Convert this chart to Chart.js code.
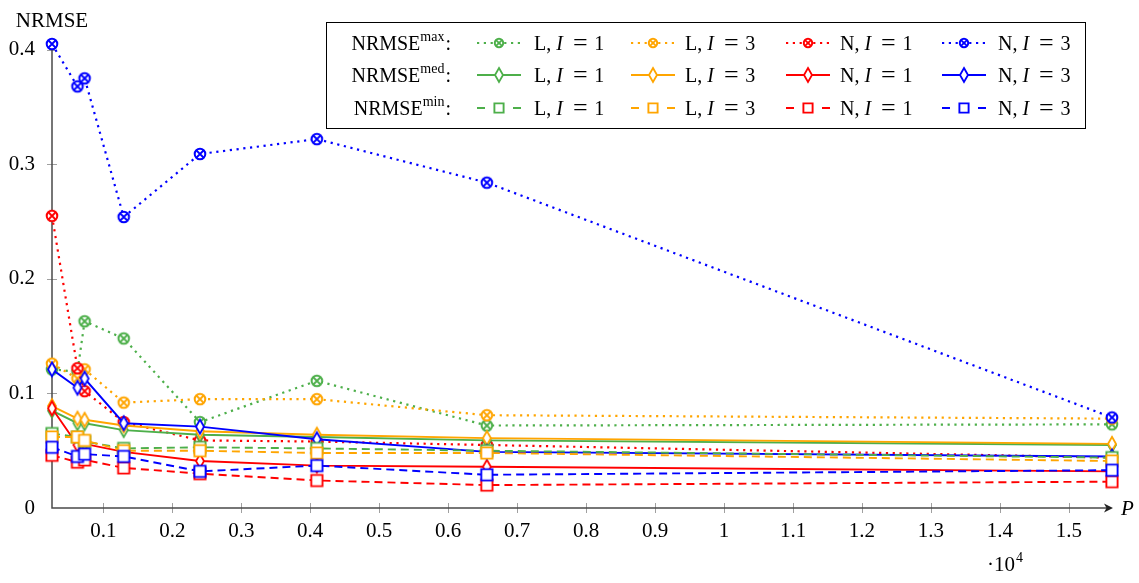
<!DOCTYPE html>
<html>
<head>
<meta charset="utf-8">
<script src="https://cdn.jsdelivr.net/npm/chart.js@4.4.1/dist/chart.umd.min.js"></script>
<style>
  html, body { margin: 0; padding: 0; background: #fff; }
  #wrap { width: 1139px; height: 583px; position: relative; }
</style>
</head>
<body>
<div id="wrap"><canvas id="chart"></canvas></div>
<script>
"use strict";

// P values (problem sizes)
const pValues = [256, 625, 729, 1296, 2401, 4096, 6561, 15625];

// NRMSE^max
const maxL1 = [0.121, 0.119, 0.163, 0.148, 0.075, 0.111, 0.072, 0.073];
const maxL3 = [0.126, 0.113, 0.121, 0.092, 0.095, 0.095, 0.081, 0.078];
const maxN1 = [0.255, 0.122, 0.102, 0.075, 0.059, 0.058, 0.055, 0.044];
const maxN3 = [0.405, 0.368, 0.375, 0.254, 0.309, 0.322, 0.284, 0.079];

// NRMSE^med
const medL1 = [0.085, 0.074, 0.074, 0.068, 0.064, 0.062, 0.059, 0.055];
const medL3 = [0.089, 0.078, 0.077, 0.072, 0.067, 0.064, 0.061, 0.056];
const medN1 = [0.087, 0.055, 0.056, 0.049, 0.041, 0.037, 0.036, 0.032];
const medN3 = [0.121, 0.105, 0.113, 0.074, 0.071, 0.060, 0.049, 0.045];

// NRMSE^min
const minL1 = [0.065, 0.062, 0.058, 0.052, 0.053, 0.052, 0.050, 0.044];
const minL3 = [0.062, 0.062, 0.059, 0.050, 0.050, 0.048, 0.048, 0.041];
const minN1 = [0.046, 0.040, 0.042, 0.035, 0.030, 0.024, 0.020, 0.023];
const minN3 = [0.053, 0.045, 0.047, 0.045, 0.032, 0.037, 0.029, 0.033];

const xTickValues = [1000, 2000, 3000, 4000, 5000, 6000, 7000, 8000, 9000, 10000, 11000, 12000, 13000, 14000, 15000];
const xTickLabels = ["0.1", "0.2", "0.3", "0.4", "0.5", "0.6", "0.7", "0.8", "0.9", "1", "1.1", "1.2", "1.3", "1.4", "1.5"];
const yTickValues = [0, 0.1, 0.2, 0.3, 0.4];
const yTickLabels = ["0", "0.1", "0.2", "0.3", "0.4"];

const rowLabels = ["max", "med", "min"];
const seriesNames = [["L", "1"], ["L", "3"], ["N", "1"], ["N", "3"]];

const COLORS = ["#4daf4a", "#ffa500", "#ff0000", "#0000ff"];
const SERIF = "'Liberation Serif', 'DejaVu Serif', serif";

const STYLES = {
  max: { marker: "otimes", dash: [2.2, 4.6], width: 2.2 },
  med: { marker: "diamond", dash: [], width: 1.9 },
  min: { marker: "square", dash: [8, 5], width: 1.9 }
};

function makeMarker(kind, color, small) {
  const size = 22;
  const c = document.createElement("canvas");
  c.width = size;
  c.height = size;
  const g = c.getContext("2d");
  const m = size / 2;
  g.strokeStyle = color;
  g.fillStyle = "#fff";
  g.lineWidth = 2;
  g.beginPath();
  if (kind === "otimes") {
    const r = small ? 4.2 : 5.3;
    g.arc(m, m, r, 0, Math.PI * 2);
    g.fill();
    g.stroke();
    const d = r * 0.7071;
    g.lineWidth = 1.8;
    g.beginPath();
    g.moveTo(m - d, m - d);
    g.lineTo(m + d, m + d);
    g.moveTo(m + d, m - d);
    g.lineTo(m - d, m + d);
    g.stroke();
  } else if (kind === "diamond") {
    const hw = 4, hh = 7;
    g.lineWidth = 1.8;
    g.moveTo(m, m - hh);
    g.lineTo(m + hw, m);
    g.lineTo(m, m + hh);
    g.lineTo(m - hw, m);
    g.closePath();
    g.fill();
    g.stroke();
  } else {
    const h = small ? 4.6 : 5.6;
    g.lineWidth = 1.9;
    g.rect(m - h, m - h, 2 * h, 2 * h);
    g.fill();
    g.stroke();
  }
  return c;
}

const seriesData = {
  max: [maxL1, maxL3, maxN1, maxN3],
  med: [medL1, medL3, medN1, medN3],
  min: [minL1, minL3, minN1, minN3]
};

function buildDatasets() {
  const list = [];
  rowLabels.forEach((row) => {
    seriesData[row].forEach((values, k) => {
      const style = STYLES[row];
      list.push({
        label: `NRMSE ${row} ${seriesNames[k][0]}, I = ${seriesNames[k][1]}`,
        data: pValues.map((p, i) => ({ x: p, y: values[i] })),
        borderColor: COLORS[k],
        borderWidth: style.width,
        borderDash: style.dash,
        borderCapStyle: "butt",
        pointStyle: makeMarker(style.marker, COLORS[k], false),
        pointRadius: 6,
        tension: 0,
        fill: false,
        clip: false
      });
    });
  });
  list.forEach((ds, i) => { ds.order = list.length - i; });
  return list;
}

function drawMathLabel(ctx, x, baseline, letter, digit) {
  ctx.font = `20px ${SERIF}`;
  ctx.textAlign = "left";
  ctx.fillText(letter + ",", x, baseline);
  const iX = Math.max(22, ctx.measureText(letter + ",").width + 5);
  ctx.font = `italic 20px ${SERIF}`;
  ctx.fillText("I", x + iX, baseline);
  ctx.font = `26px ${SERIF}`;
  ctx.textAlign = "center";
  ctx.fillText("=", x + iX + 24, baseline + 1);
  ctx.font = `20px ${SERIF}`;
  ctx.textAlign = "left";
  ctx.fillText(digit, x + iX + 38, baseline);
}

const axesPlugin = {
  id: "axesPlugin",
  beforeDatasetsDraw(chart) {
    const { ctx, chartArea, scales } = chart;
    const x0 = chartArea.left, x1 = chartArea.right;
    const y0 = chartArea.bottom, y1 = chartArea.top;
    ctx.save();
    // tick marks
    ctx.strokeStyle = "#a0a0a0";
    ctx.lineWidth = 1;
    xTickValues.forEach((v) => {
      const px = Math.round(scales.x.getPixelForValue(v)) + 0.5;
      ctx.beginPath();
      ctx.moveTo(px, y0 - 5);
      ctx.lineTo(px, y0 + 5);
      ctx.stroke();
    });
    yTickValues.forEach((v) => {
      if (v === 0) return;
      const py = Math.round(scales.y.getPixelForValue(v)) + 0.5;
      ctx.beginPath();
      ctx.moveTo(x0 - 5, py);
      ctx.lineTo(x0 + 5, py);
      ctx.stroke();
    });
    // axis lines
    ctx.strokeStyle = "#4a4a4a";
    ctx.lineWidth = 1.5;
    ctx.beginPath();
    ctx.moveTo(x0, y1);
    ctx.lineTo(x0, y0);
    ctx.lineTo(x1 - 4, y0);
    ctx.stroke();
    // arrow head
    ctx.fillStyle = "#222";
    ctx.beginPath();
    ctx.moveTo(x1 + 1, y0);
    ctx.lineTo(x1 - 8, y0 - 4.5);
    ctx.lineTo(x1 - 5.5, y0);
    ctx.lineTo(x1 - 8, y0 + 4.5);
    ctx.closePath();
    ctx.fill();
    ctx.restore();
  },
  afterDraw(chart) {
    const { ctx, chartArea } = chart;
    ctx.save();
    ctx.fillStyle = "#000";
    ctx.textBaseline = "alphabetic";
    // axis titles
    ctx.font = `21px ${SERIF}`;
    ctx.textAlign = "center";
    ctx.fillText("NRMSE", chartArea.left, 27);
    ctx.font = `italic 21px ${SERIF}`;
    ctx.textAlign = "left";
    ctx.fillText("P", 1121, 515);
    ctx.font = `21px ${SERIF}`;
    ctx.fillText("\u00b710", 987, 571);
    ctx.font = `14px ${SERIF}`;
    ctx.fillText("4", 1016, 562);

    // legend
    const bx = 326.5, by = 22.5, bw = 759, bh = 106;
    ctx.fillStyle = "#fff";
    ctx.fillRect(bx, by, bw, bh);
    ctx.strokeStyle = "#000";
    ctx.lineWidth = 1;
    ctx.strokeRect(bx, by, bw, bh);

    const baselines = [50, 82, 115];
    const sampleX = [477, 631, 786, 942];
    const textX = [534, 685, 840, 998];
    rowLabels.forEach((row, r) => {
      const base = baselines[r];
      const yc = base - 7;
      ctx.fillStyle = "#000";
      // row label, right aligned to the colon
      ctx.font = `14px ${SERIF}`;
      const supW = ctx.measureText(row).width;
      ctx.font = `20px ${SERIF}`;
      const colonW = ctx.measureText(":").width;
      const mainW = ctx.measureText("NRMSE").width;
      const right = 451;
      const start = right - colonW - supW - mainW - 1;
      ctx.textAlign = "left";
      ctx.fillText("NRMSE", start, base);
      ctx.fillText(":", right - colonW, base);
      ctx.font = `14px ${SERIF}`;
      ctx.fillText(row, start + mainW, base - 9);

      const style = STYLES[row];
      seriesNames.forEach((name, k) => {
        const sx = sampleX[k];
        ctx.strokeStyle = COLORS[k];
        ctx.lineWidth = style.width;
        ctx.lineCap = "butt";
        ctx.beginPath();
        if (row === "min") {
          ctx.setLineDash([]);
          ctx.moveTo(sx, yc); ctx.lineTo(sx + 8, yc);
          ctx.moveTo(sx + 36, yc); ctx.lineTo(sx + 44, yc);
        } else {
          ctx.setLineDash(style.dash);
          ctx.moveTo(sx, yc); ctx.lineTo(sx + 44, yc);
        }
        ctx.stroke();
        ctx.setLineDash([]);
        const mk = makeMarker(style.marker, COLORS[k], true);
        ctx.drawImage(mk, sx + 22 - mk.width / 2, yc - mk.height / 2);
        ctx.fillStyle = "#000";
        drawMathLabel(ctx, textX[k], base, name[0], name[1]);
      });
    });
    ctx.restore();
  }
};

const chart = new Chart(document.getElementById("chart"), {
  type: "line",
  data: { datasets: buildDatasets() },
  options: {
    responsive: true,
    maintainAspectRatio: false,
    animation: false,
    events: [],
    layout: { padding: { top: 44, right: 27, left: 0, bottom: 0 } },
    plugins: {
      legend: { display: false },
      tooltip: { enabled: false }
    },
    scales: {
      x: {
        type: "linear",
        min: 256,
        max: 15625,
        grid: { display: false, drawTicks: false },
        border: { display: false },
        afterBuildTicks: (s) => { s.ticks = xTickValues.map((v) => ({ value: v })); },
        afterFit: (s) => { s.height = 75; },
        ticks: {
          padding: 11,
          maxRotation: 0,
          autoSkip: false,
          color: "#000",
          font: { family: SERIF, size: 21 },
          callback: (v) => xTickLabels[xTickValues.indexOf(v)]
        }
      },
      y: {
        type: "linear",
        min: 0,
        max: 0.405,
        grid: { display: false, drawTicks: false },
        border: { display: false },
        afterBuildTicks: (s) => { s.ticks = yTickValues.map((v) => ({ value: v })); },
        afterFit: (s) => { s.width = 52; },
        ticks: {
          padding: 17,
          autoSkip: false,
          color: "#000",
          font: { family: SERIF, size: 21 },
          callback: (v) => yTickLabels[yTickValues.indexOf(v)]
        }
      }
    }
  },
  plugins: [axesPlugin]
});
</script>
</body>
</html>
